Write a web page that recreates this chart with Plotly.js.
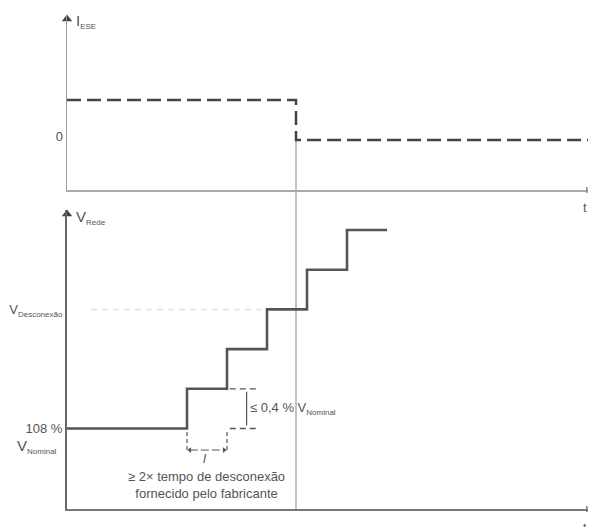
<!DOCTYPE html>
<html><head><meta charset="utf-8">
<script src="https://cdn.plot.ly/plotly-3.0.1.min.js"></script>
<style>html,body{margin:0;padding:0;background:#fff}#chart{width:589px;height:527px}</style>
</head><body><div id="chart"></div>
<script>
// ---- data ----
const stepTimes = [0, 3, 4, 5, 6, 7, 8];
const stepVoltage = [108.0, 108.4, 108.8, 109.2, 109.6, 110.0, 110.0];
const currentTimes = [0, 5.725, 13.025];
const currentValues = [1, -0.11, -0.11];
const disconnectTime = 5.725;
const disconnectVoltage = 109.2;
const disconnectGuideTimes = [0.6, 6.0];
const bracketTimes = [4.07, 4.72];
const bracketX = 4.49;
const bracketLevels = [108.0, 108.4];
const widthMarkTimes = [3, 4];
const widthMarkLevels = [107.965, 107.763];
const widthArrowLevel = 107.783;
const voltageTickVals = [108.0, 109.2];
const voltageTickText = ['108 %', 'V<sub><span style="font-size:8px">Desconexão</span></sub>'];
const currentTickVals = [0];
const currentTickText = ['0'];

// ---- scales ----
const xRange = [0, 13.025];
const vRange = [107.189, 110.2015];
const iRange = [-1.5, 3.361];
const vDomain = [0, 0.5874];
const iDomain = [0.6267, 0.9705];
const font = 'Liberation Sans, Arial, sans-serif';
const txt = '#555';

function iToPaper(v){ return iDomain[0] + (v - iRange[0]) / (iRange[1] - iRange[0]) * (iDomain[1] - iDomain[0]); }

const headGap = 0.07;
const traces = [
  { x: disconnectGuideTimes, y: [disconnectVoltage, disconnectVoltage], mode: 'lines',
    line: {color: '#e2e2e2', width: 1.5, dash: '6px,5px'}, xaxis: 'x', yaxis: 'y', hoverinfo: 'skip' },
  { x: stepTimes, y: stepVoltage, mode: 'lines', line: {color: '#555', width: 2.6, shape: 'hv'},
    xaxis: 'x', yaxis: 'y', hoverinfo: 'skip' },
  { x: currentTimes, y: currentValues, mode: 'lines',
    line: {color: '#444', width: 2.5, shape: 'hv', dash: '14px,6px'}, xaxis: 'x2', yaxis: 'y2', hoverinfo: 'skip' },
  { x: [bracketTimes[0], bracketTimes[1], null, bracketTimes[0], bracketTimes[1]],
    y: [bracketLevels[1], bracketLevels[1], null, bracketLevels[0], bracketLevels[0]], mode: 'lines',
    line: {color: '#555', width: 1.3, dash: '6px,4px'}, xaxis: 'x', yaxis: 'y', hoverinfo: 'skip' },
  { x: [bracketX, bracketX], y: [bracketLevels[0] + 0.03, bracketLevels[1] - 0.03], mode: 'lines',
    line: {color: '#555', width: 1.2}, xaxis: 'x', yaxis: 'y', hoverinfo: 'skip' },
  { x: [widthMarkTimes[0], widthMarkTimes[0], null, widthMarkTimes[1], widthMarkTimes[1]],
    y: [widthMarkLevels[0], widthMarkLevels[1], null, widthMarkLevels[0], widthMarkLevels[1]], mode: 'lines',
    line: {color: '#555', width: 1.2, dash: '4px,3px'}, xaxis: 'x', yaxis: 'y', hoverinfo: 'skip' },
  { x: [widthMarkTimes[0] + headGap, widthMarkTimes[1] - headGap], y: [widthArrowLevel, widthArrowLevel],
    mode: 'lines+markers', line: {color: '#555', width: 1, dash: '8px,3px'},
    marker: {symbol: ['triangle-left', 'triangle-right'], size: 5, color: '#555'},
    xaxis: 'x', yaxis: 'y', hoverinfo: 'skip' },
  { x: [xRange[0]], y: [vRange[1] - 0.04], mode: 'markers', cliponaxis: false,
    marker: {symbol: 'triangle-up', size: 9, color: '#444'}, xaxis: 'x', yaxis: 'y', hoverinfo: 'skip' },
  { x: [xRange[0]], y: [iRange[1] - 0.11], mode: 'markers', cliponaxis: false,
    marker: {symbol: 'triangle-up', size: 9, color: '#444'}, xaxis: 'x2', yaxis: 'y2', hoverinfo: 'skip' }
];

const sub = s => '<sub><span style="font-size:8px">' + s + '</span></sub>';

const annotations = [
  { xref: 'paper', yref: 'y', x: 0.0134, y: 110.13, xanchor: 'left', yanchor: 'middle', showarrow: false,
    text: 'V' + sub('Rede'), font: {size: 15, color: txt} },
  { xref: 'paper', yref: 'y2', x: 0.0134, y: 3.19, xanchor: 'left', yanchor: 'middle', showarrow: false,
    text: 'I' + sub('ESE'), font: {size: 15, color: txt} },
  { xref: 'paper', yref: 'y', x: -0.0154, y: 107.814, xanchor: 'right', yanchor: 'middle', showarrow: false,
    text: 'V' + sub('Nominal'), font: {size: 15, color: txt} },
  { xref: 'x', yref: 'y', x: 4.53, y: 108.2, xanchor: 'left', yanchor: 'middle', showarrow: false,
    text: '≤ 0,4 % V' + sub('Nominal'), font: {size: 13, color: txt} },
  { xref: 'x', yref: 'y', x: 3.45, y: 107.70, xanchor: 'center', yanchor: 'middle', showarrow: false,
    text: '<i>l</i>', font: {size: 13, color: txt} },
  { xref: 'x', yref: 'y', x: 3.475, y: 107.43, xanchor: 'center', yanchor: 'middle', showarrow: false, align: 'center',
    text: '≥ 2× tempo de desconexão<br>fornecido pelo fabricante', font: {size: 13, color: txt} },
  { xref: 'paper', yref: 'paper', x: 0.9942, y: 0.5914, xanchor: 'center', yanchor: 'middle', showarrow: false,
    text: 't', font: {size: 13, color: txt} },
  { xref: 'paper', yref: 'paper', x: 0.9942, y: -0.0373, xanchor: 'center', yanchor: 'middle', showarrow: false,
    text: 't', font: {size: 12, color: txt} }
];

const endTick = 3 / 509;
const shapes = [
  { type: 'line', xref: 'x', yref: 'paper', x0: disconnectTime, x1: disconnectTime,
    y0: 0, y1: iToPaper(currentValues[1]), line: {color: '#9a9a9a', width: 1.2}, layer: 'below' },
  { type: 'line', xref: 'x', yref: 'paper', x0: xRange[1] - 0.03, x1: xRange[1] - 0.03,
    y0: iDomain[0] - endTick, y1: iDomain[0] + endTick, line: {color: '#888', width: 1.5} },
  { type: 'line', xref: 'x', yref: 'paper', x0: xRange[1] - 0.03, x1: xRange[1] - 0.03,
    y0: vDomain[0] - endTick, y1: vDomain[0] + endTick, line: {color: '#777', width: 1.5} }
];

const axisCommon = { showgrid: false, zeroline: false, ticks: '', showline: true, fixedrange: true };

const layout = {
  width: 589, height: 527,
  margin: {l: 67, r: 1, t: 0, b: 18},
  paper_bgcolor: '#fff', plot_bgcolor: '#fff',
  showlegend: false,
  font: {family: font, color: txt},
  xaxis: Object.assign({}, axisCommon, {domain: [0, 1], range: xRange, anchor: 'y',
    linecolor: '#777', linewidth: 2, showticklabels: false}),
  xaxis2: Object.assign({}, axisCommon, {domain: [0, 1], range: xRange, anchor: 'y2', matches: 'x',
    linecolor: '#aaa', linewidth: 1.5, showticklabels: false}),
  yaxis: Object.assign({}, axisCommon, {domain: vDomain, range: vRange, anchor: 'x',
    linecolor: '#666', linewidth: 2, tickvals: voltageTickVals, ticktext: voltageTickText,
    tickfont: {size: 13, color: txt}}),
  yaxis2: Object.assign({}, axisCommon, {domain: iDomain, range: iRange, anchor: 'x2',
    linecolor: '#999', linewidth: 1.5, tickvals: currentTickVals, ticktext: currentTickText,
    tickfont: {size: 13, color: txt}}),
  annotations: annotations,
  shapes: shapes
};

Plotly.newPlot('chart', traces, layout, {displayModeBar: false, staticPlot: true});
</script>
</body></html>
